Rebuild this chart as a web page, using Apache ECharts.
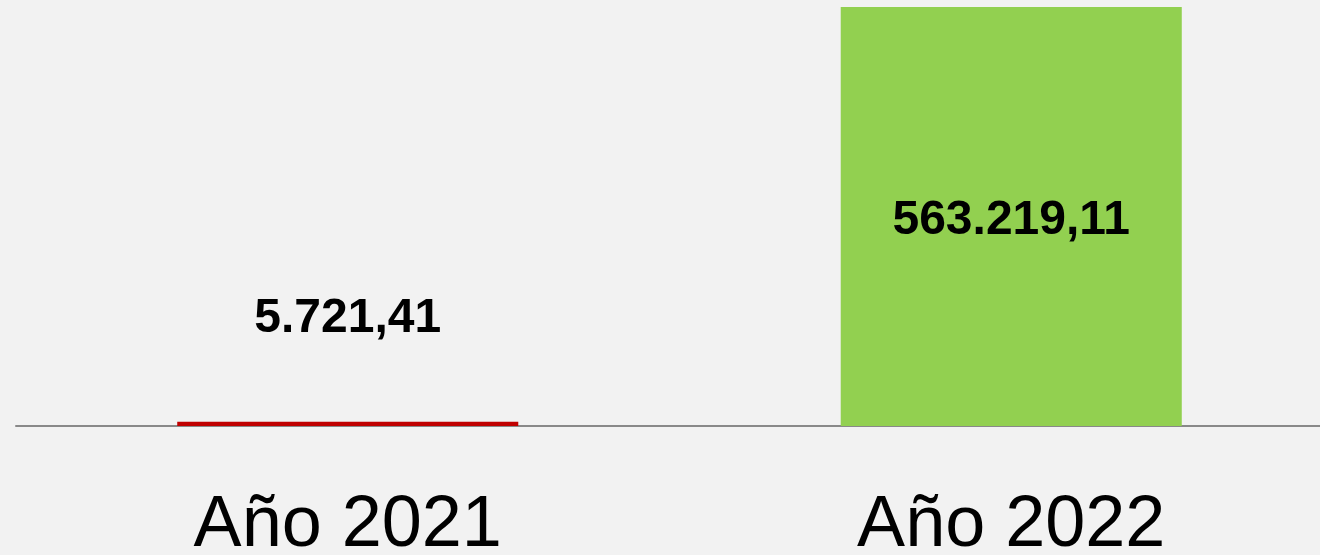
<!DOCTYPE html>
<html>
<head>
<meta charset="utf-8">
<script src="https://cdn.jsdelivr.net/npm/echarts@6/dist/echarts.min.js"></script>
<style>
html,body{margin:0;padding:0;background:#f2f2f2;}
#chart{width:1320px;height:555px;}
</style>
</head>
<body>
<div id="chart"></div>
<script>
const categories = ['Año 2021', 'Año 2022'];
const values = [5721.41, 563219.11];
const barColors = ['#c00000', '#92d050'];

function fmt(v) {
  const parts = v.toFixed(2).split('.');
  return parts[0].replace(/\B(?=(\d{3})+(?!\d))/g, '.') + ',' + parts[1];
}

const chart = echarts.init(document.getElementById('chart'), null, {renderer: 'canvas'});
chart.setOption({
  backgroundColor: '#f2f2f2',
  animation: false,
  grid: {left: 16, right: -23, top: 7, bottom: 129, containLabel: false, outerBoundsMode: 'none'},
  xAxis: {
    type: 'category',
    data: categories,
    axisLine: {show: true, lineStyle: {color: '#898989', width: 2}},
    axisTick: {show: false},
    axisLabel: {
      color: '#000', fontSize: 72, margin: 64,
      fontFamily: "'Liberation Sans', Arial, sans-serif"
    }
  },
  yAxis: {
    type: 'value', min: 0, max: 563219.11,
    show: false, splitLine: {show: false}
  },
  series: [{
    type: 'bar',
    barWidth: '51.4%',
    data: values.map((v, i) => ({
      value: v,
      itemStyle: {color: barColors[i]},
      label: i === 0 ? {position: 'top', distance: 79} : {position: 'inside', offset: [0, 4]}
    })),
    label: {
      show: true,
      color: '#000',
      fontWeight: 'bold',
      fontSize: 48,
      fontFamily: "'Liberation Sans', Arial, sans-serif",
      formatter: p => fmt(p.value)
    }
  }]
});
</script>
</body>
</html>
